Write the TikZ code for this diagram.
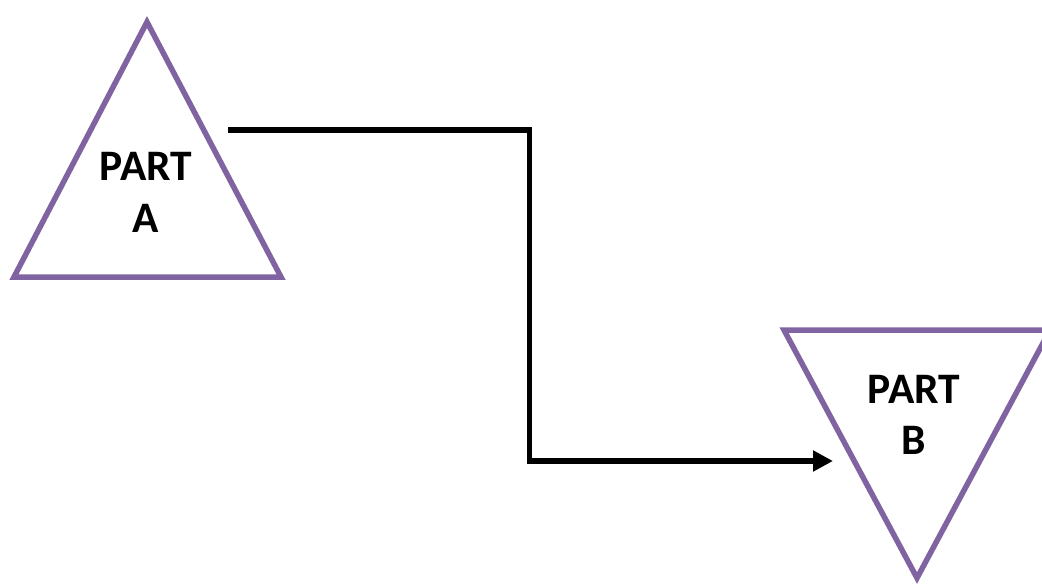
\documentclass[tikz,border=0pt]{standalone}
\usepackage{fontspec}
\setmainfont{Carlito}
\usetikzlibrary{arrows.meta}
\definecolor{tripurple}{HTML}{8064A2}
\begin{document}
\begin{tikzpicture}[x=1pt,y=-1pt,
  tri/.style={draw=tripurple,line width=5.5pt,line join=miter},
  lbl/.style={font=\fontsize{43.5}{52}\selectfont\bfseries,align=center,inner sep=0pt,anchor=base},
  conn/.style={draw=black,line width=5.5pt,line join=miter,-{Triangle[length=20pt,width=20pt]}}]
\useasboundingbox (0,0) rectangle (1042,586);
\begin{scope}
\clip (0,0) rectangle (1042,586);
\draw[tri] (147,22) -- (281,277) -- (14,277) -- cycle;
\draw[tri] (784,330) -- (1050,330) -- (917,578) -- cycle;
\end{scope}
\node[lbl] (pa1) at (146,180) {PART};
\node[lbl] (pa2) at (146,232) {A};
\node[lbl] (pb1) at (914,403) {PART};
\node[lbl] (pb2) at (914,454) {B};
\coordinate (s) at (228,130);
\coordinate (e) at (833,461);
\draw[conn] (s) -- (529.5,130) -- (529.5,461) -- (e);
\end{tikzpicture}
\end{document}
